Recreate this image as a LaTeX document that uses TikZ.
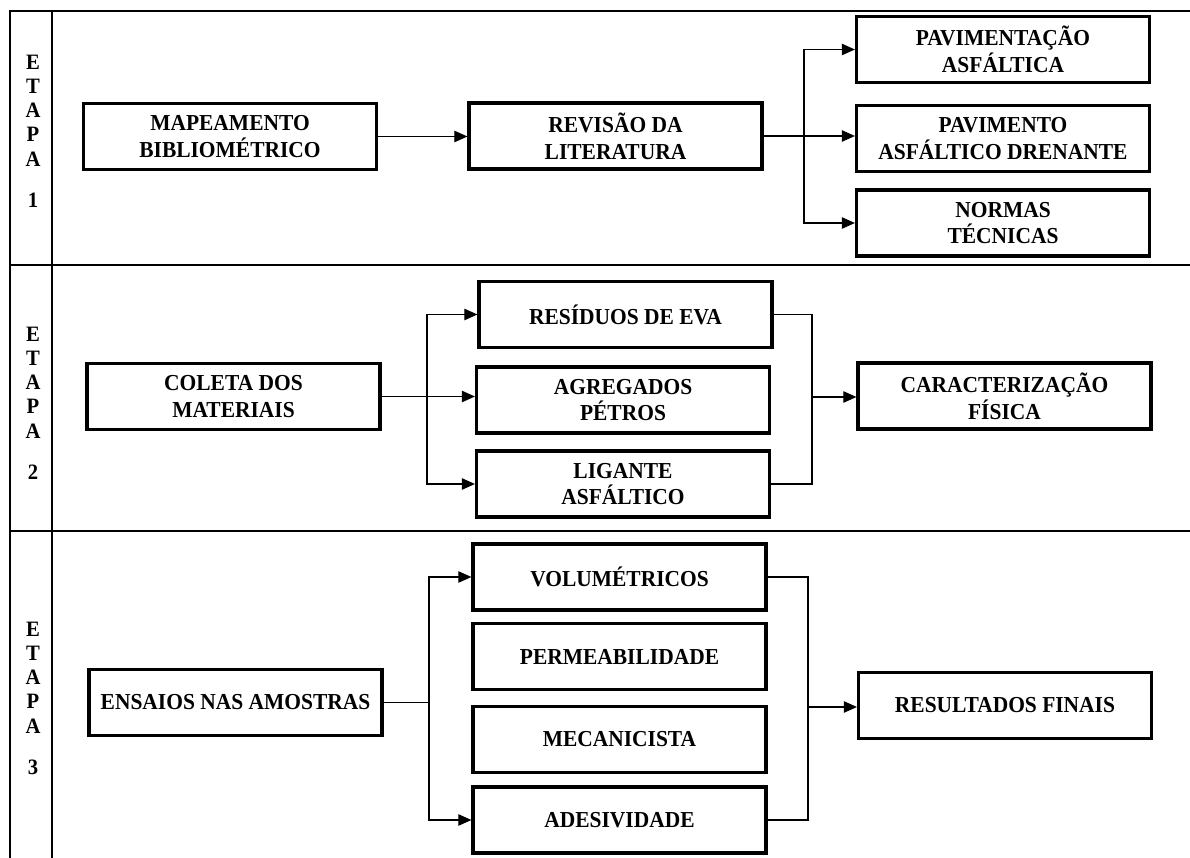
\documentclass[tikz,border=0pt]{standalone}
\usepackage{fontspec}
\setmainfont{Liberation Serif}
\newfontfamily\boxfont[FakeStretch=0.94]{Liberation Serif}
\usepackage{tikz}
\usetikzlibrary{calc}
\usetikzlibrary{arrows.meta}

\tikzset{
  caixa/.style={draw, line width=1.8pt, minimum width=5.86cm, minimum height=1.32cm,
    inner sep=0pt, align=center, font=\boxfont\bfseries\fontsize{13}{15.3}\selectfont},
  etapa/.style={align=center, inner sep=0pt, font=\boxfont\bfseries\fontsize{12.5}{13.8}\selectfont},
  grade/.style={line width=0.8pt},
  liga/.style={line width=0.8pt},
  seta/.style={line width=0.8pt, -{Triangle[length=7.5pt,width=6.5pt]}}
}

\begin{document}
\begin{tikzpicture}[x=0.02cm, y=-0.02cm]
  \useasboundingbox (0,0) rectangle (1190,858);

  \draw[grade] (10,858) -- (10,11) -- (1190,11);
  \draw[grade] (52,11) -- (52,858);
  \draw[grade] (10,265) -- (1190,265);
  \draw[grade] (10,531) -- (1190,531);

  \node[etapa] (et1) at (33,131) {E\\T\\A\\P\\A\\[9.6pt]1};
  \node[etapa] (et2) at (33,403) {E\\T\\A\\P\\A\\[9.6pt]2};
  \node[etapa] (et3) at (33,698) {E\\T\\A\\P\\A\\[9.6pt]3};

  \node[caixa] (map) at (230,136.5) {MAPEAMENTO\\BIBLIOMÉTRICO};
  \node[caixa] (rev) at (615.5,136) {REVISÃO DA\\LITERATURA};
  \node[caixa] (pav) at (1003,49.5) {PAVIMENTAÇÃO\\ASFÁLTICA};
  \node[caixa] (dren) at (1003,138.5) {PAVIMENTO\\ASFÁLTICO DRENANTE};
  \node[caixa] (norm) at (1003,223) {NORMAS\\TÉCNICAS};

  \node[caixa] (col) at (233.5,396.5) {COLETA DOS\\MATERIAIS};
  \node[caixa] (res) at (625.5,314.5) {RESÍDUOS DE EVA};
  \node[caixa] (agr) at (623,400) {AGREGADOS\\PÉTROS};
  \node[caixa] (lig) at (623,484) {LIGANTE\\ASFÁLTICO};
  \node[caixa] (car) at (1004.5,396) {CARACTERIZAÇÃO\\FÍSICA};

  \node[caixa] (ens) at (235.5,702.5) {ENSAIOS NAS AMOSTRAS};
  \node[caixa] (vol) at (619.5,577) {VOLUMÉTRICOS};
  \node[caixa] (per) at (619.5,656.5) {PERMEABILIDADE};
  \node[caixa] (mec) at (619.5,739.5) {MECANICISTA};
  \node[caixa] (ade) at (619.5,820) {ADESIVIDADE};
  \node[caixa] (fin) at (1005,705.5) {RESULTADOS FINAIS};

  \coordinate (b1) at (804,136);
  \coordinate (b2) at (427,396.5);
  \coordinate (m2) at (812,397);
  \coordinate (b3) at (429,702.5);
  \coordinate (m3) at (808,707);

  \draw[seta] (map.east) -- (map.east -| rev.west);
  \draw[liga] (rev.east) -- (b1);
  \draw[seta] (b1) |- (pav.west);
  \draw[seta] (b1) -- (b1 -| dren.west);
  \draw[seta] (b1) |- (norm.west);

  \draw[liga] (col.east) -- (b2);
  \draw[seta] (b2) |- (res.west);
  \draw[seta] (b2) -- (b2 -| agr.west);
  \draw[seta] (b2) |- (lig.west);
  \draw[liga] (res.east) -| (m2) |- (lig.east);
  \draw[seta] (m2) -- (m2 -| car.west);

  \draw[liga] (ens.east) -- (b3);
  \draw[seta] (b3) |- (vol.west);
  \draw[seta] (b3) |- (ade.west);
  \draw[liga] (vol.east) -| (m3) |- (ade.east);
  \draw[seta] (m3) -- (m3 -| fin.west);
\end{tikzpicture}
\end{document}
